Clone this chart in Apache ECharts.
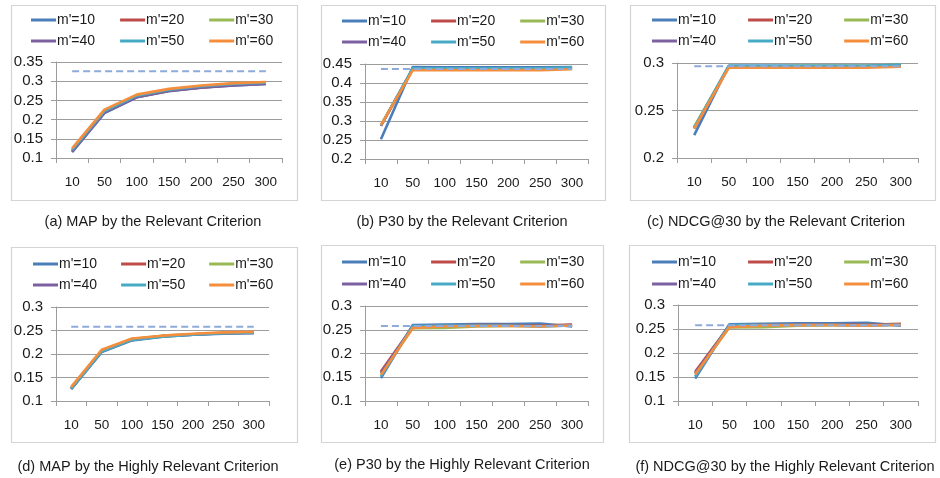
<!DOCTYPE html>
<html>
<head>
<meta charset="utf-8">
<script src="https://cdn.jsdelivr.net/npm/echarts@6/dist/echarts.min.js"></script>
<style>
  html, body { margin: 0; padding: 0; background: #ffffff; }
  #chart { width: 940px; height: 478px; }
</style>
</head>
<body>
<div id="chart"></div>
<script>
// ---------- DATA ----------
const categories = ['10', '50', '100', '150', '200', '250', '300'];
const seriesNames = ["m'=10", "m'=20", "m'=30", "m'=40", "m'=50", "m'=60"];
const captions = [
  '(a) MAP by the Relevant Criterion',
  '(b) P30 by the Relevant Criterion',
  '(c) NDCG@30 by the Relevant Criterion',
  '(d) MAP by the Highly Relevant Criterion',
  '(e) P30 by the Highly Relevant Criterion',
  '(f) NDCG@30 by the Highly Relevant Criterion'
];

// (a) MAP, relevant
const mapRelevant = [
  [0.115, 0.217, 0.258, 0.274, 0.283, 0.289, 0.293],
  [0.118, 0.219, 0.259, 0.275, 0.284, 0.290, 0.294],
  [0.120, 0.221, 0.261, 0.277, 0.286, 0.292, 0.295],
  [0.117, 0.218, 0.258, 0.275, 0.284, 0.289, 0.293],
  [0.121, 0.222, 0.262, 0.278, 0.287, 0.293, 0.296],
  [0.125, 0.226, 0.265, 0.280, 0.289, 0.295, 0.298]
];
const mapRelevantBaseline = [0.326, 0.326, 0.326, 0.326, 0.326, 0.326, 0.326];
const mapRelevantTicks = [0.1, 0.15, 0.2, 0.25, 0.3, 0.35];

// (b) P30, relevant
const p30Relevant = [
  [0.252, 0.442, 0.441, 0.441, 0.441, 0.441, 0.442],
  [0.288, 0.436, 0.437, 0.437, 0.437, 0.436, 0.438],
  [0.289, 0.437, 0.438, 0.438, 0.438, 0.437, 0.439],
  [0.287, 0.438, 0.438, 0.439, 0.439, 0.438, 0.440],
  [0.288, 0.439, 0.439, 0.439, 0.439, 0.439, 0.441],
  [0.289, 0.434, 0.434, 0.434, 0.434, 0.434, 0.436]
];
const p30RelevantBaseline = [0.437, 0.437, 0.437, 0.437, 0.437, 0.437, 0.437];
const p30RelevantTicks = [0.2, 0.25, 0.3, 0.35, 0.4, 0.45];

// (c) NDCG@30, relevant
const ndcgRelevant = [
  [0.224, 0.297, 0.297, 0.297, 0.297, 0.297, 0.298],
  [0.232, 0.296, 0.296, 0.296, 0.296, 0.296, 0.297],
  [0.233, 0.296, 0.296, 0.297, 0.297, 0.297, 0.298],
  [0.231, 0.296, 0.296, 0.296, 0.296, 0.296, 0.297],
  [0.232, 0.297, 0.297, 0.297, 0.297, 0.297, 0.298],
  [0.231, 0.295, 0.295, 0.295, 0.295, 0.295, 0.296]
];
const ndcgRelevantBaseline = [0.2965, 0.2965, 0.2965, 0.2965, 0.2965, 0.2965, 0.2965];
const ndcgRelevantTicks = [0.2, 0.25, 0.3];

// (d) MAP, highly relevant
const mapHighly = [
  [0.125, 0.204, 0.229, 0.237, 0.241, 0.243, 0.245],
  [0.127, 0.206, 0.231, 0.238, 0.242, 0.244, 0.246],
  [0.128, 0.207, 0.232, 0.239, 0.242, 0.245, 0.246],
  [0.126, 0.205, 0.230, 0.238, 0.241, 0.244, 0.245],
  [0.126, 0.205, 0.230, 0.237, 0.241, 0.244, 0.245],
  [0.130, 0.209, 0.233, 0.239, 0.243, 0.246, 0.247]
];
const mapHighlyBaseline = [0.258, 0.258, 0.258, 0.258, 0.258, 0.258, 0.258];
const mapHighlyTicks = [0.1, 0.15, 0.2, 0.25, 0.3];

// (e) P30, highly relevant
const p30Highly = [
  [0.148, 0.260, 0.261, 0.262, 0.262, 0.263, 0.257],
  [0.162, 0.257, 0.259, 0.260, 0.260, 0.259, 0.261],
  [0.158, 0.253, 0.254, 0.257, 0.258, 0.258, 0.259],
  [0.159, 0.256, 0.258, 0.259, 0.259, 0.258, 0.260],
  [0.152, 0.258, 0.259, 0.259, 0.259, 0.257, 0.259],
  [0.155, 0.254, 0.257, 0.258, 0.258, 0.257, 0.259]
];
const p30HighlyBaseline = [0.258, 0.258, 0.258, 0.258, 0.258, 0.258, 0.258];
const p30HighlyTicks = [0.1, 0.15, 0.2, 0.25, 0.3];

// (f) NDCG@30, highly relevant
const ndcgHighly = [
  [0.147, 0.260, 0.261, 0.262, 0.262, 0.263, 0.257],
  [0.161, 0.257, 0.259, 0.260, 0.260, 0.259, 0.261],
  [0.157, 0.253, 0.254, 0.257, 0.258, 0.258, 0.259],
  [0.158, 0.256, 0.258, 0.259, 0.259, 0.258, 0.260],
  [0.151, 0.258, 0.259, 0.259, 0.259, 0.257, 0.259],
  [0.155, 0.254, 0.257, 0.258, 0.258, 0.257, 0.259]
];
const ndcgHighlyBaseline = [0.258, 0.258, 0.258, 0.258, 0.258, 0.258, 0.258];
const ndcgHighlyTicks = [0.1, 0.15, 0.2, 0.25, 0.3];

// ---------- STYLE / LAYOUT ----------
const seriesColors = ['#4A7EBB', '#BE4B48', '#98B954', '#7D60A0', '#46AAC5', '#F58E3C'];
const baselineColor = '#8EAADB';
const gridColor = '#9c9c9c';
const frameColor = '#d4d4d4';
const FONT = "'Liberation Sans', Arial, sans-serif";

const panels = [
  { values: mapRelevant,  baseline: mapRelevantBaseline,  ticks: mapRelevantTicks },
  { values: p30Relevant,  baseline: p30RelevantBaseline,  ticks: p30RelevantTicks },
  { values: ndcgRelevant, baseline: ndcgRelevantBaseline, ticks: ndcgRelevantTicks },
  { values: mapHighly,    baseline: mapHighlyBaseline,    ticks: mapHighlyTicks },
  { values: p30Highly,    baseline: p30HighlyBaseline,    ticks: p30HighlyTicks },
  { values: ndcgHighly,   baseline: ndcgHighlyBaseline,   ticks: ndcgHighlyTicks }
];

// frame [x,y,w,h], grid [left,top,width,height], legend left, legend row tops, legend item gap, caption [cx, top]
const layout = [
  { frame: [11, 5, 286, 195],   grid: [56, 62, 226, 96],   lLeft: 31,  lTop: [13, 34],   lGap: 25, cap: [153, 214] },
  { frame: [321, 5, 284, 195],  grid: [365, 64, 223, 95],  lLeft: 342, lTop: [14, 35],   lGap: 25, cap: [462, 214] },
  { frame: [630, 5, 305, 195],  grid: [677, 63, 241, 95],  lLeft: 652, lTop: [13, 34],   lGap: 32, cap: [776, 214] },
  { frame: [11, 247, 286, 195], grid: [56, 307, 213, 94],  lLeft: 33,  lTop: [257, 278], lGap: 24, cap: [148, 459] },
  { frame: [321, 245, 282, 197], grid: [365, 306, 223, 95], lLeft: 342, lTop: [255, 277], lGap: 25, cap: [462, 457] },
  { frame: [629, 245, 306, 197], grid: [678, 305, 240, 96], lLeft: 652, lTop: [255, 277], lGap: 32, cap: [785, 459] }
];

const option = {
  animation: false,
  backgroundColor: '#ffffff',
  textStyle: { fontFamily: FONT },
  title: [], legend: [], grid: [], xAxis: [], yAxis: [], series: [], graphic: []
};

panels.forEach((p, i) => {
  const L = layout[i];
  const ticks = p.ticks;
  const interval = Math.round((ticks[1] - ticks[0]) * 1000) / 1000;

  option.graphic.push({
    type: 'rect', silent: true, z: -1,
    shape: { x: L.frame[0] + 0.5, y: L.frame[1] + 0.5, width: L.frame[2], height: L.frame[3] },
    style: { fill: 'none', stroke: frameColor, lineWidth: 1.2 }
  });

  option.title.push({
    text: captions[i],
    left: L.cap[0], top: L.cap[1], textAlign: 'center', padding: 0,
    textStyle: { fontSize: 14.5, fontWeight: 'normal', color: '#1a1a1a', fontFamily: FONT }
  });

  [0, 1].forEach(row => {
    option.legend.push({
      left: L.lLeft, top: L.lTop[row], padding: 0, itemGap: L.lGap,
      itemWidth: 25, itemHeight: 3, icon: 'rect', selectedMode: false,
      data: seriesNames.slice(row * 3, row * 3 + 3),
      textStyle: { fontSize: 14, color: '#1a1a1a', fontFamily: FONT, padding: [0, 0, 0, -4] }
    });
  });

  option.grid.push({
    left: L.grid[0], top: L.grid[1], width: L.grid[2], height: L.grid[3], containLabel: false
  });

  option.xAxis.push({
    type: 'category', gridIndex: i, data: categories, boundaryGap: true,
    axisLine: { show: true, lineStyle: { color: gridColor, width: 1 } },
    axisTick: { show: true, interval: 0, length: 5, lineStyle: { color: gridColor } },
    axisLabel: { interval: 0, margin: 17, fontSize: 13.5, color: '#1a1a1a', fontFamily: FONT },
    splitLine: { show: false }
  });

  option.yAxis.push({
    type: 'value', gridIndex: i,
    min: ticks[0], max: ticks[ticks.length - 1], interval: interval,
    axisLine: { show: true, lineStyle: { color: gridColor, width: 1 } },
    axisTick: { show: true, length: 5, lineStyle: { color: gridColor } },
    axisLabel: {
      margin: 13, fontSize: 15, color: '#1a1a1a', fontFamily: FONT,
      formatter: v => String(Math.round(v * 100) / 100)
    },
    splitLine: { show: true, lineStyle: { color: gridColor, width: 1 } }
  });

  p.values.forEach((vals, k) => {
    option.series.push({
      type: 'line', name: seriesNames[k], xAxisIndex: i, yAxisIndex: i,
      data: vals, symbol: 'none', smooth: false, z: 3 + k * 0.01,
      lineStyle: { color: seriesColors[k], width: 2.6 },
      itemStyle: { color: seriesColors[k] }
    });
  });

  option.series.push({
    type: 'line', name: 'baseline', xAxisIndex: i, yAxisIndex: i,
    data: p.baseline, symbol: 'none', z: 4,
    lineStyle: { color: baselineColor, width: 2, type: [7, 4] },
    itemStyle: { color: baselineColor }
  });
});

const chart = echarts.init(document.getElementById('chart'), null, { renderer: 'canvas' });
chart.setOption(option);
</script>
</body>
</html>
